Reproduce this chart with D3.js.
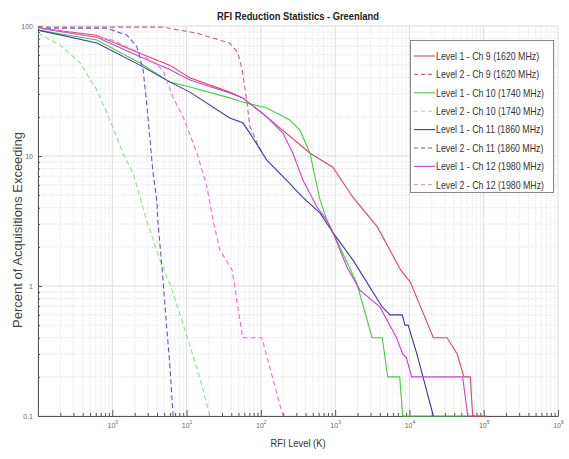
<!DOCTYPE html>
<html>
<head>
<meta charset="utf-8">
<script src="https://cdn.jsdelivr.net/npm/d3@7"></script>
<style>
  body { margin: 0; background: #fff; }
  svg { display: block; }
</style>
</head>
<body>
<svg id="chart" width="569" height="459"></svg>
<script>
// [RFI level (K), percent exceeding]
const l1ch9 = [[0.1,96.5],[0.61,85],[2.3,62],[5.9,50],[11,40],[38,31],[57,28],[120,20],[460,10.5],[930,8.2],[1740,4.8],[3700,2.85],[7600,1.33],[10300,1.07],[21000,0.4],[32000,0.4],[44000,0.3],[54000,0.2],[66000,0.2],[71000,0.1],[110000,0.1]]
const l2ch9 = [[0.1,98],[4.8,98],[13.8,88],[38,74],[49,62],[56,46],[65,26],[71,17],[89,12.6],[103,10.7]]
const l1ch10 = [[0.1,93],[0.62,78],[2.36,52],[6,37],[11.1,34],[38,28],[57,26],[120,23.4],[246,18.9],[335,15.8],[458,10.5],[535,6.9],[625,4.6],[775,3.2],[940,2.56],[1960,1.05],[3140,0.4],[4300,0.4],[5100,0.2],[7400,0.2],[8100,0.1],[59000,0.1]]
const l2ch10 = [[0.1,88],[0.2,71],[0.37,52],[0.62,32],[0.93,19],[1.39,10.5],[1.9,7.4],[2.9,3.2],[4.4,1.58],[6.4,0.93],[9.5,0.46],[15,0.2],[20.6,0.1]]
const l1ch11 = [[0.1,93],[0.62,74],[2.36,50],[6,37],[11.1,31],[38,19.6],[57,18],[71,15],[120,9.3],[223,6.5],[367,4.8],[624,3.65],[940,2.56],[1740,1.58],[2930,0.98],[4300,0.69],[5500,0.6],[8000,0.6],[8700,0.5],[9600,0.5],[12600,0.3],[21000,0.1]]
const l2ch11 = [[0.1,96],[0.85,96],[1.58,85],[2.15,69],[2.6,46],[2.9,25.6],[3.2,14],[3.5,7.8],[4,4.35],[4.1,3.2],[4.7,1.33],[5.3,0.55],[6,0.23],[6.6,0.1]]
const l1ch12 = [[0.1,96.5],[0.62,82],[2.36,58],[6,46],[11.1,38.4],[38,30.5],[57,28],[120,20],[198,15],[270,10.5],[369,6.5],[570,4.05],[775,3.2],[940,2.56],[1440,1.4],[2150,0.93],[4000,0.69],[6700,0.4],[8100,0.3],[9100,0.28],[10700,0.2],[52000,0.2],[61000,0.1],[76000,0.1]]
const l2ch12 = [[0.1,96.5],[0.62,82],[1,78],[2.36,62],[4.8,46],[6.6,28],[9,20],[13.8,10.5],[18.8,5.8],[22.7,3.2],[28,1.9],[41,1.33],[57,0.4],[103,0.4],[198,0.1]]

const seriesNames = ['Level 1 - Ch 9 (1620 MHz)','Level 2 - Ch 9 (1620 MHz)','Level 1 - Ch 10 (1740 MHz)','Level 2 - Ch 10 (1740 MHz)','Level 1 - Ch 11 (1860 MHz)','Level 2 - Ch 11 (1860 MHz)','Level 1 - Ch 12 (1980 MHz)','Level 2 - Ch 12 (1980 MHz)']
const seriesData = [l1ch9, l2ch9, l1ch10, l2ch10, l1ch11, l2ch11, l1ch12, l2ch12]
const seriesColors = ['#d84862','#b86a8c','#46cc46','#90e090','#3c3c9a','#5c5cb8','#c444cc','#e274cc']
const seriesDashed = [false,true,false,true,false,true,false,true]

const xMajor = [0.1,1,10,100,1e3,1e4,1e5,1e6]
const xExp = ['','0','1','2','3','4','5','6']
const yMajor = [0.1,1,10,100]
const yLabels = ['0.1','1','10','100']

const plotL = 38, plotR = 558, plotT = 26, plotB = 416
const svg = d3.select('#chart')
const sans = '"Liberation Sans", Arial, sans-serif'

const x = d3.scaleLog().domain([0.1, 1e6]).range([plotL, plotR])
const y = d3.scaleLog().domain([0.1, 100]).range([plotB, plotT])

const minors = (lo, hi) => {
	const out = []
	for (let e = lo; e < hi; e++) for (let k = 2; k <= 9; k++) out.push(k * Math.pow(10, e))
	return out
}
const xMinor = minors(-1, 6)
const yMinor = minors(-1, 2)

// grid
const grid = svg.append('g')
grid.selectAll('.xmin').data(xMinor).enter().append('line')
	.attr('x1', d => x(d)).attr('x2', d => x(d)).attr('y1', plotT).attr('y2', plotB)
	.attr('stroke', '#e4e4e4').attr('stroke-dasharray', '1,1')
grid.selectAll('.ymin').data(yMinor).enter().append('line')
	.attr('y1', d => y(d)).attr('y2', d => y(d)).attr('x1', plotL).attr('x2', plotR)
	.attr('stroke', '#e4e4e4').attr('stroke-dasharray', '1,1')
grid.selectAll('.xmaj').data(xMajor).enter().append('line')
	.attr('x1', d => x(d)).attr('x2', d => x(d)).attr('y1', plotT).attr('y2', plotB)
	.attr('stroke', '#dcdcdc')
grid.selectAll('.ymaj').data(yMajor).enter().append('line')
	.attr('y1', d => y(d)).attr('y2', d => y(d)).attr('x1', plotL).attr('x2', plotR)
	.attr('stroke', '#dcdcdc')

// axes
const xAxis = svg.append('g').attr('transform', `translate(0,${plotB})`)
	.call(d3.axisBottom(x).tickValues(xMajor).tickSizeInner(-6).tickSizeOuter(0).tickPadding(7).tickFormat(() => '10'))
xAxis.selectAll('.tick text').each(function(d, i) {
	const t = d3.select(this)
	if (!xExp[i]) { t.text(''); return }
	t.append('tspan').attr('dy', -4).attr('font-size', 5).text(xExp[i])
})
svg.append('g').attr('transform', `translate(0,${plotB})`)
	.call(d3.axisBottom(x).tickValues(xMinor).tickSize(-3).tickFormat(''))
	.call(g => g.select('.domain').remove())

svg.append('g').attr('transform', `translate(${plotL},0)`)
	.call(d3.axisLeft(y).tickValues(yMajor).tickSizeInner(-4).tickSizeOuter(0).tickPadding(5).tickFormat((d, i) => yLabels[i]))
svg.append('g').attr('transform', `translate(${plotL},0)`)
	.call(d3.axisLeft(y).tickValues(yMinor).tickSize(-2).tickFormat(''))
	.call(g => g.select('.domain').remove())

svg.selectAll('.domain').attr('stroke', '#555')
svg.selectAll('.tick line').attr('stroke', '#555')
svg.selectAll('.tick text').attr('fill', '#666').attr('font-size', 7).attr('font-family', sans)

// curves
svg.append('clipPath').attr('id', 'plot').append('rect')
	.attr('x', plotL).attr('y', plotT - 1).attr('width', plotR - plotL).attr('height', plotB - plotT + 2)
const line = d3.line().x(d => x(d[0])).y(d => y(d[1]))
svg.append('g').attr('clip-path', 'url(#plot)')
	.selectAll('path').data(seriesData).enter().append('path')
	.attr('d', line)
	.attr('fill', 'none')
	.attr('stroke', (d, i) => seriesColors[i])
	.attr('stroke-width', 1.1)
	.attr('stroke-dasharray', (d, i) => seriesDashed[i] ? '5,3' : null)

// legend
const lg = svg.append('g')
lg.append('rect').attr('x', 410.5).attr('y', 40.5).attr('width', 143).attr('height', 152)
	.attr('fill', '#fff').attr('stroke', '#888')
const rows = lg.selectAll('.row').data(seriesNames).enter().append('g')
	.attr('transform', (d, i) => `translate(0,${56 + i * 18.4})`)
rows.append('line').attr('x1', 414).attr('x2', 435).attr('y1', 0).attr('y2', 0)
	.attr('stroke', (d, i) => seriesColors[i]).attr('stroke-width', 1.1)
	.attr('stroke-dasharray', (d, i) => seriesDashed[i] ? '4,3' : null)
// the original face is condensed, so squeeze the text horizontally
rows.append('text').attr('transform', 'translate(436,0) scale(0.8,1)').attr('dy', '0.35em')
	.attr('font-family', sans).attr('font-size', 11).attr('fill', '#333')
	.text(d => d)

// titles
svg.append('text').attr('transform', 'translate(298,16) scale(0.85,1)').attr('dy', '0.35em').attr('text-anchor', 'middle')
	.attr('font-family', sans).attr('font-weight', 'bold').attr('font-size', 11).attr('fill', '#222')
	.text('RFI Reduction Statistics - Greenland')
svg.append('text').attr('transform', 'translate(298,443) scale(0.85,1)').attr('dy', '0.35em').attr('text-anchor', 'middle')
	.attr('font-family', sans).attr('font-size', 11).attr('fill', '#333')
	.text('RFI Level (K)')
svg.append('text').attr('transform', 'translate(17,230) rotate(-90)').attr('dy', '0.35em').attr('text-anchor', 'middle')
	.attr('font-family', sans).attr('font-size', 13).attr('fill', '#444')
	.text('Percent of Acquisitions Exceeding')
</script>
</body>
</html>
